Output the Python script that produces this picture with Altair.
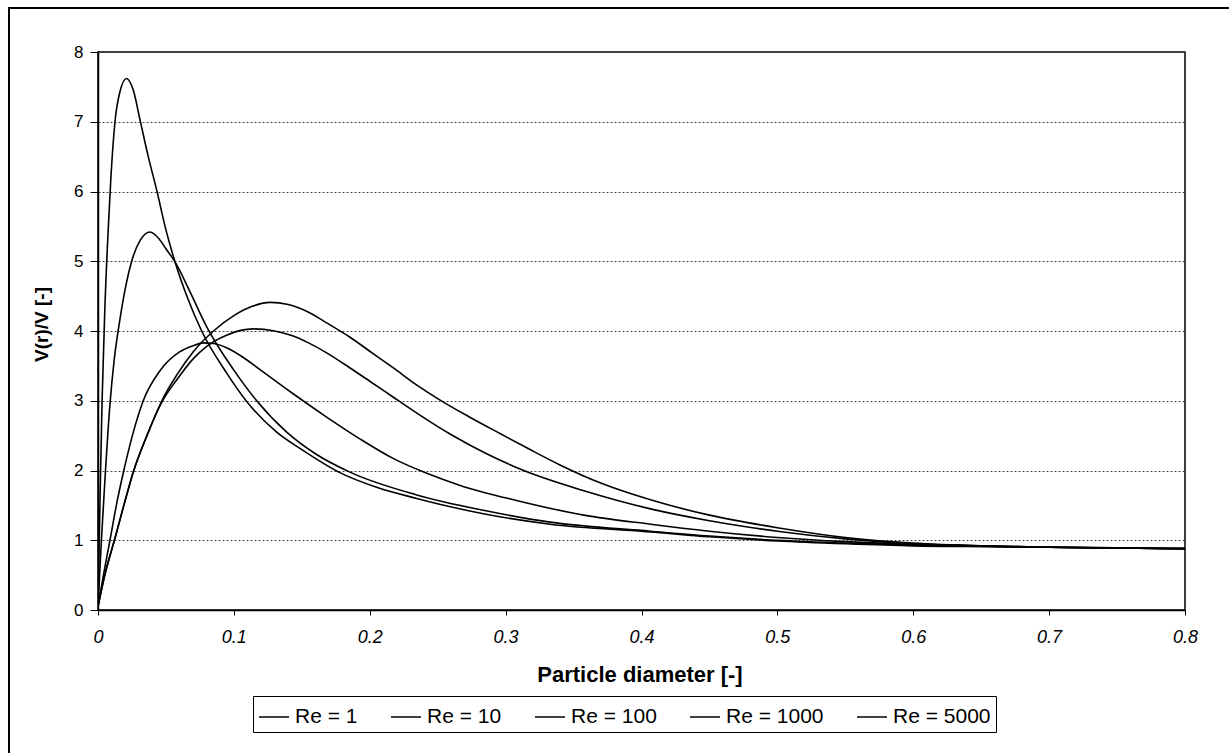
import altair as alt
import pandas as pd

# Series labels (legend order)
re_labels = ["Re = 1", "Re = 10", "Re = 100", "Re = 1000", "Re = 5000"]

# Particle diameter [-] and V(r)/V [-] for each Reynolds number
d_re1 = [0, 0.005, 0.0128, 0.019, 0.026, 0.036, 0.047, 0.058, 0.07, 0.085, 0.10,
         0.113, 0.1266, 0.14, 0.155, 0.168, 0.1855, 0.2, 0.2174, 0.235, 0.2542,
         0.275, 0.2959, 0.318, 0.340, 0.37, 0.4066, 0.45, 0.5, 0.55, 0.6, 0.65,
         0.7, 0.8]
v_re1 = [0.05, 0.5, 1.05, 1.5, 1.98, 2.5, 3.0, 3.37, 3.70, 4.0, 4.22,
         4.35, 4.41, 4.38, 4.27, 4.12, 3.91, 3.71, 3.47, 3.22, 2.98,
         2.75, 2.53, 2.30, 2.08, 1.82, 1.58, 1.36, 1.18, 1.04, 0.96, 0.92,
         0.90, 0.88]

d_re10 = [0, 0.005, 0.0128, 0.019, 0.026, 0.036, 0.047, 0.058, 0.07, 0.08, 0.0946,
          0.114, 0.13, 0.142, 0.155, 0.168, 0.1855, 0.2, 0.2174, 0.238, 0.2594,
          0.286, 0.3134, 0.3576, 0.4066, 0.45, 0.5, 0.55, 0.6, 0.65, 0.7, 0.8]
v_re10 = [0.05, 0.5, 1.05, 1.5, 1.98, 2.5, 2.98, 3.3, 3.6, 3.78, 3.94,
          4.03, 4.0, 3.94, 3.83, 3.69, 3.47, 3.28, 3.05, 2.78, 2.52,
          2.24, 2.0, 1.71, 1.45, 1.28, 1.13, 1.02, 0.95, 0.92, 0.90, 0.88]

d_re100 = [0, 0.004, 0.0088, 0.014, 0.019, 0.026, 0.0333, 0.0456, 0.060, 0.07,
           0.0775, 0.085, 0.0946, 0.107, 0.119, 0.1436, 0.168, 0.193, 0.2175,
           0.242, 0.266, 0.308, 0.3576, 0.4066, 0.45, 0.5, 0.55, 0.6, 0.65,
           0.7, 0.8]
v_re100 = [0.05, 0.5, 1.0, 1.55, 2.0, 2.55, 3.0, 3.43, 3.7, 3.79,
           3.83, 3.82, 3.76, 3.62, 3.45, 3.10, 2.77, 2.45, 2.17,
           1.96, 1.79, 1.57, 1.36, 1.23, 1.13, 1.04, 0.98, 0.94, 0.92,
           0.90, 0.88]

d_re1000 = [0, 0.0025, 0.0052, 0.0088, 0.012, 0.016, 0.02, 0.0248, 0.031, 0.0383,
            0.045, 0.05, 0.0567, 0.068, 0.080, 0.0996, 0.1168, 0.1389, 0.160, 0.185,
            0.2345, 0.2836, 0.3327, 0.4066, 0.45, 0.5, 0.55, 0.6, 0.65, 0.7, 0.8]
v_re1000 = [0.05, 1.0, 1.9, 2.95, 3.6, 4.15, 4.6, 5.0, 5.3, 5.42,
            5.32, 5.18, 4.99, 4.55, 4.06, 3.45, 3.0, 2.55, 2.24, 1.98,
            1.65, 1.43, 1.26, 1.13, 1.06, 1.0, 0.96, 0.93, 0.91, 0.90, 0.88]

d_re5000 = [0, 0.0015, 0.003, 0.005, 0.0075, 0.0095, 0.0125, 0.016, 0.021, 0.026,
            0.031, 0.037, 0.0432, 0.05, 0.0567, 0.066, 0.0763, 0.0946, 0.109, 0.1315,
            0.150, 0.178, 0.205, 0.2345, 0.2836, 0.3327, 0.4066, 0.45, 0.5, 0.55,
            0.6, 0.65, 0.7, 0.8]
v_re5000 = [0.05, 1.6, 3.0, 4.3, 5.45, 6.2, 7.0, 7.42, 7.62, 7.45,
            7.02, 6.5, 6.02, 5.45, 4.99, 4.47, 4.0, 3.40, 3.0, 2.55,
            2.3, 1.97, 1.76, 1.60, 1.38, 1.23, 1.12, 1.05, 0.99, 0.95,
            0.92, 0.91, 0.90, 0.88]

x_ticks = [0, 0.1, 0.2, 0.3, 0.4, 0.5, 0.6, 0.7, 0.8]
y_ticks = [0, 1, 2, 3, 4, 5, 6, 7, 8]

series = [
    ("Re = 1", d_re1, v_re1),
    ("Re = 10", d_re10, v_re10),
    ("Re = 100", d_re100, v_re100),
    ("Re = 1000", d_re1000, v_re1000),
    ("Re = 5000", d_re5000, v_re5000),
]
rows = [
    {"series": name, "d": d, "v": v}
    for name, ds, vs in series
    for d, v in zip(ds, vs)
]
df = pd.DataFrame(rows)

FONT = "Liberation Sans"
W, H = 1087, 558

lines = alt.Chart(df).mark_line(
    interpolate="monotone", strokeWidth=1.6, clip=True
).encode(
    x=alt.X(
        "d:Q",
        scale=alt.Scale(domain=[0, 0.8], nice=False, zero=False),
        axis=alt.Axis(
            values=x_ticks,
            labelExpr="datum.value == 0 ? '0' : format(datum.value, '.1f')",
            labelFont=FONT,
            labelFontSize=18,
            labelFontStyle="italic",
            labelColor="black",
            labelFlush=False,
            labelOverlap=False,
            labelPadding=13,
            tickSize=5,
            tickColor="black",
            domainColor="black",
            domainWidth=1.5,
            grid=False,
            title="Particle diameter [-]",
            titleFont=FONT,
            titleFontSize=22,
            titleFontWeight="bold",
            titleColor="black",
            titleX=W / 2 - 2,
            titleY=64,
            titleBaseline="middle",
            titleAlign="center",
        ),
    ),
    y=alt.Y(
        "v:Q",
        scale=alt.Scale(domain=[0, 8], nice=False),
        axis=alt.Axis(
            values=y_ticks,
            format="d",
            labelFont=FONT,
            labelFontSize=17,
            labelColor="black",
            labelPadding=7,
            tickSize=8,
            tickColor="black",
            domainColor="black",
            domainWidth=1.5,
            grid=True,
            gridColor="#444444",
            gridDash=[2, 2],
            gridWidth=1,
            title="V(r)/V [-]",
            titleFont=FONT,
            titleFontSize=19,
            titleFontWeight="bold",
            titleColor="black",
            titleAngle=270,
            titleX=-57,
            titleY=272,
            titleBaseline="middle",
            titleAlign="center",
        ),
    ),
    color=alt.Color(
        "series:N",
        sort=re_labels,
        scale=alt.Scale(domain=re_labels, range=["black"] * 5),
        legend=alt.Legend(
            title=None,
            orient="none",
            legendX=155,
            legendY=644,
            direction="horizontal",
            columns=5,
            symbolType="stroke",
            symbolSize=900,
            symbolStrokeWidth=1.5,
            labelFont=FONT,
            labelFontSize=21,
            labelColor="black",
            labelOffset=5,
            columnPadding=30,
            padding=5,
            strokeColor="black",
            fillColor="white",
        ),
    ),
)

# Outer frame lines along the top and left of the figure
frame_src = pd.DataFrame({"k": [0]})
frame_top = alt.Chart(frame_src).mark_rule(color="black", strokeWidth=2).encode(
    x=alt.value(-90), x2=alt.value(1131), y=alt.value(-44)
)
frame_left = alt.Chart(frame_src).mark_rule(color="black", strokeWidth=2).encode(
    x=alt.value(-89), y=alt.value(-44), y2=alt.value(701)
)

chart = alt.layer(lines, frame_top, frame_left).properties(
    width=W,
    height=H,
    padding={"left": 98, "top": 52, "right": 44, "bottom": 143},
    autosize=alt.AutoSizeParams(type="none"),
    background="white",
).configure_view(
    stroke="black", strokeWidth=1.5
)

chart.save("out.html", embed_options={"renderer": "svg", "actions": False})
